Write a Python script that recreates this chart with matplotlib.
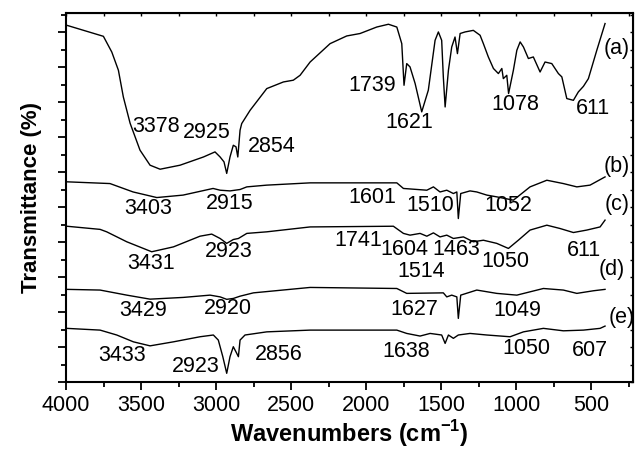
import matplotlib
matplotlib.use("Agg")
import matplotlib.pyplot as plt
from matplotlib.ticker import MultipleLocator

plt.rcParams['font.family'] = ['Liberation Sans', 'DejaVu Sans']
plt.rcParams['mathtext.fontset'] = 'custom'
plt.rcParams['mathtext.rm'] = 'Liberation Sans'
plt.rcParams['mathtext.bf'] = 'Liberation Sans:bold'

# spectra (wavenumber in cm-1, transmittance in arbitrary offset units)
wn_a = [3995, 3751, 3695, 3651, 3618, 3573, 3507, 3440, 3373, 3240, 3084, 3007, 2973, 2947,
        2929, 2907, 2885, 2867, 2855, 2840, 2829, 2773, 2662, 2551, 2485, 2440, 2373, 2240,
        2129, 2040, 1929, 1851, 1795, 1762, 1747, 1729, 1707, 1673, 1629, 1585, 1540, 1518,
        1496, 1485, 1473, 1451, 1429, 1407, 1391, 1373, 1340, 1285, 1240, 1218, 1185, 1151,
        1118, 1095, 1085, 1062, 1050, 1018, 995, 973, 951, 918, 885, 840, 807, 762, 718, 695,
        662, 618, 585, 551, 518, 462, 407]
t_a = [20.4, 19.77, 18.87, 17.83, 16.3, 14.8, 13.26, 12.4, 12.17, 12.4, 12.87, 13.16, 12.87, 12.59,
       11.93, 12.87, 13.54, 13.45, 12.87, 14.4, 14.78, 15.54, 16.78, 17.16, 17.26, 17.54, 18.3, 19.35,
       19.79, 19.93, 20.3, 20.46, 20.3, 19.35, 16.97, 18.21, 18.02, 17.07, 15.45, 16.69, 19.54, 20.02,
       19.54, 17.45, 15.73, 17.83, 19.16, 19.73, 18.78, 19.93, 20.02, 20.11, 19.83, 19.35, 18.59, 17.93,
       17.64, 17.93, 17.35, 17.54, 16.5, 17.83, 18.97, 19.45, 19.16, 18.5, 18.59, 17.73, 18.3, 18.21,
       17.64, 17.45, 16.21, 16.11, 16.59, 16.91, 17.35, 18.97, 20.5]

wn_b = [3995, 3707, 3553, 3395, 3220, 3020, 2973, 2907, 2840, 2795, 2662, 2373, 1795, 1751,
        1595, 1551, 1507, 1462, 1418, 1395, 1385, 1369, 1307, 1262, 1195, 1129, 1018, 907,
        795, 685, 595, 507, 407]
t_b = [11.45, 11.35, 10.87, 10.55, 10.69, 11.07, 10.97, 10.93, 11.01, 11.16, 11.26, 11.39, 11.39, 11.07,
       10.97, 11.16, 10.87, 10.97, 10.78, 10.87, 9.35, 10.78, 10.93, 10.87, 10.69, 10.59, 10.4, 11.16,
       11.54, 11.35, 11.16, 11.26, 11.73]

wn_c = [3995, 3773, 3729, 3595, 3429, 3284, 3107, 3029, 2973, 2929, 2885, 2851, 2795, 2662,
        2373, 1818, 1751, 1707, 1640, 1595, 1551, 1507, 1462, 1418, 1351, 1285, 1218, 1129,
        1051, 985, 907, 795, 707, 618, 529, 440, 407]
t_c = [8.91, 8.73, 8.59, 8.02, 7.45, 7.73, 8.34, 8.46, 8.21, 7.93, 8.15, 8.21, 8.5, 8.59,
       8.87, 8.91, 8.5, 8.4, 8.5, 8.34, 8.53, 8.3, 8.4, 8.21, 8.3, 8.02, 8.11, 7.93,
       7.64, 8.11, 8.69, 8.97, 8.78, 8.55, 8.69, 8.87, 9.26]

wn_d = [3995, 3773, 3595, 3440, 3218, 3040, 2973, 2929, 2885, 2840, 2751, 2373, 1795, 1729,
        1485, 1462, 1429, 1395, 1385, 1369, 1262, 1129, 995, 818, 685, 595, 484, 407]
t_d = [5.3, 5.26, 4.97, 4.74, 4.84, 4.97, 4.87, 4.73, 4.78, 4.91, 5.1, 5.41, 5.35, 5.07,
       5.1, 4.87, 4.97, 4.87, 3.64, 4.97, 5.26, 5.07, 4.97, 5.35, 5.26, 5.07, 5.22, 5.3]

wn_e = [3995, 3773, 3662, 3551, 3440, 3284, 3107, 3018, 2985, 2955, 2929, 2907, 2885, 2862,
        2851, 2840, 2807, 2662, 2373, 1795, 1729, 1640, 1573, 1496, 1473, 1451, 1418, 1385,
        1307, 1195, 1040, 951, 818, 685, 551, 440, 407]
t_e = [3.07, 2.97, 2.69, 2.3, 2.07, 2.3, 2.59, 2.69, 2.4, 1.45, 0.5, 1.45, 2.02, 1.64,
       1.45, 2.4, 2.69, 2.87, 2.97, 2.97, 2.78, 2.63, 2.78, 2.69, 2.21, 2.69, 2.5, 2.69,
       2.78, 2.69, 2.59, 2.87, 3.07, 2.93, 2.97, 3.07, 3.2]

# peak annotations: text, wavenumber, y
ann_text = ['3378', '2925', '2854', '1739', '1621', '1078', '611', '(a)',
            '3403', '2915', '1601', '1510', '1052', '(b)', '(c)',
            '3431', '2923', '1741', '1604', '1463', '1514', '1050', '611', '(d)',
            '3429', '2920', '1627', '1049', '(e)',
            '3433', '2923', '2856', '1638', '1050', '607']
ann_x = [3401, 3060, 2627, 1960, 1710, 1003, 490, 331,
         3453, 2910, 1957, 1573, 1049, 329, 329,
         3435, 2918, 2051, 1745, 1399, 1635, 1073, 547, 362,
         3484, 2918, 1679, 990, 295,
         3625, 3135, 2580, 1732, 932, 509]
ann_y = [14.63, 14.26, 13.49, 16.97, 14.87, 15.85, 15.64, 19.1,
         9.94, 10.23, 10.54, 10.11, 10.11, 12.3, 10.17,
         6.78, 7.45, 8.07, 7.59, 7.59, 6.35, 6.87, 7.54, 6.46,
         4.11, 4.21, 4.17, 4.11, 3.69,
         1.54, 0.9, 1.6, 1.73, 1.93, 1.83]

fig = plt.figure(figsize=(6.35, 4.5), dpi=100)
ax = fig.add_axes([0.104, 0.151, 0.893, 0.820])

for wn, t in [(wn_a, t_a), (wn_b, t_b), (wn_c, t_c), (wn_d, t_d), (wn_e, t_e)]:
    ax.plot(wn, t, color='black', lw=1.0)

for s, x, y in zip(ann_text, ann_x, ann_y):
    ax.text(x, y, s, ha='center', va='center', fontsize=15.5)

ax.set_xlim(4000, 220)
ax.set_ylim(0, 21.1)
ax.xaxis.set_major_locator(MultipleLocator(500))
ax.xaxis.set_minor_locator(MultipleLocator(250))
ax.yaxis.set_major_locator(MultipleLocator(2))
ax.yaxis.set_minor_locator(MultipleLocator(1))
ax.set_yticklabels([])
ax.tick_params(axis='both', which='major', direction='out', length=6, width=1.3,
               labelsize=15.5, top=False, right=False)
ax.tick_params(axis='both', which='minor', direction='out', length=3.5, width=1.3)
# tiny inward ticks on top and right frame
sx = ax.secondary_xaxis('top')
sx.xaxis.set_major_locator(MultipleLocator(250))
sx.tick_params(direction='in', length=2, width=1, labeltop=False)
sy = ax.secondary_yaxis('right')
sy.yaxis.set_major_locator(MultipleLocator(1))
sy.tick_params(direction='in', length=2, width=1, labelright=False)
for sp in ax.spines.values():
    sp.set_linewidth(1.5)

ax.set_xlabel('Wavenumbers (cm$^{\\mathbf{-1}}$)', fontsize=17, fontweight='bold', labelpad=1)
ax.set_ylabel('Transmittance (%)', fontsize=16, fontweight='bold', labelpad=8)

fig.savefig('out.png', dpi=100)
